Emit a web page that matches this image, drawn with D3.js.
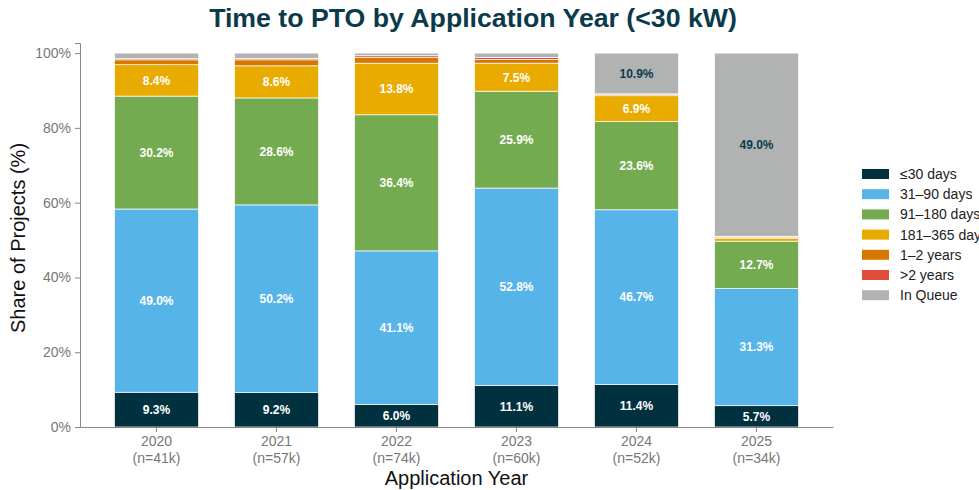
<!DOCTYPE html>
<html lang="en">
<head>
<meta charset="UTF-8">
<title>Time to PTO by Application Year</title>
<script src="https://cdn.jsdelivr.net/npm/d3@7"></script>
<style>
  body { margin: 0; background: #fff; }
  svg { font-family: "Liberation Sans", Arial, sans-serif; display: block; }
</style>
</head>
<body>
<div id="chart"></div>
<script>
// data
const years = ["2020", "2021", "2022", "2023", "2024", "2025"];
const counts = ["(n=41k)", "(n=57k)", "(n=74k)", "(n=60k)", "(n=52k)", "(n=34k)"];
const categories = ["≤30 days", "31–90 days", "91–180 days", "181–365 days", "1–2 years", ">2 years", "In Queue"];
const colors = ["#01303f", "#56b4e9", "#74aa50", "#eaab00", "#d57800", "#e04e39", "#b1b3b3"];

const le30 = [9.3, 9.2, 6.0, 11.1, 11.4, 5.7];
const d31to90 = [49.0, 50.2, 41.1, 52.8, 46.7, 31.3];
const d91to180 = [30.2, 28.6, 36.4, 25.9, 23.6, 12.7];
const d181to365 = [8.4, 8.6, 13.8, 7.5, 6.9, 0.8];
const y1to2 = [1.3, 1.6, 1.6, 1.0, 0.4, 0.3];
const over2 = [0.3, 0.4, 0.4, 0.5, 0.1, 0.2];
const inQueue = [1.5, 1.4, 0.7, 1.2, 10.9, 49.0];
const yTicks = [0, 20, 40, 60, 80, 100];

const series = [le30, d31to90, d91to180, d181to365, y1to2, over2, inQueue];

const W = 979, H = 490;
const margin = { top: 43, right: 146, bottom: 63, left: 80 };
const width = W - margin.left - margin.right;
const height = H - margin.top - margin.bottom;

const svg = d3.select("#chart").append("svg")
  .attr("width", W)
  .attr("height", H);

const g = svg.append("g")
  .attr("transform", `translate(${margin.left},${margin.top})`);

// x scale (band)
const x = d3.scaleBand()
  .domain(years)
  .range([0, width])
  .paddingInner(0.3)
  .paddingOuter(0.2875);

// y scale
const y = d3.scaleLinear()
  .domain([0, 102.7])
  .range([height, 0]);

// stacked rows
const rows = years.map((yr, i) => {
  const r = { year: yr };
  categories.forEach((c, k) => r[c] = series[k][i]);
  return r;
});
const stacked = d3.stack().keys(categories)(rows);

const layers = g.selectAll("g.layer")
  .data(stacked)
  .enter().append("g")
  .attr("class", "layer")
  .attr("fill", (d, k) => colors[k]);

layers.selectAll("rect")
  .data(d => d)
  .enter().append("rect")
  .attr("x", d => x(d.data.year))
  .attr("width", x.bandwidth())
  .attr("y", d => y(d[1]))
  .attr("height", d => y(d[0]) - y(d[1]))
  .attr("stroke", "#fff")
  .attr("stroke-width", 0.7);

// value labels
stacked.forEach((layer, k) => {
  layer.forEach(d => {
    const v = d[1] - d[0];
    if (v < 5) return;
    g.append("text")
      .attr("x", x(d.data.year) + x.bandwidth() / 2)
      .attr("y", (y(d[0]) + y(d[1])) / 2)
      .attr("dy", "0.36em")
      .attr("text-anchor", "middle")
      .style("font-size", "12px")
      .style("font-weight", "bold")
      .attr("fill", categories[k] === "In Queue" ? "#0b3b4a" : "#fff")
      .text(v.toFixed(1) + "%");
  });
});

// y axis
const yAxis = g.append("g")
  .call(d3.axisLeft(y).tickValues(yTicks).tickFormat(d => d + "%").tickSize(5).tickPadding(4));
yAxis.select(".domain").attr("stroke", "#888");
yAxis.selectAll(".tick line").attr("stroke", "#888");
yAxis.selectAll(".tick text").attr("fill", "#777").style("font-size", "14px");

// x axis
const xAxis = g.append("g")
  .attr("transform", `translate(0,${height})`)
  .call(d3.axisBottom(x).tickSize(5).tickSizeOuter(0).tickFormat(""));
xAxis.select(".domain").attr("stroke", "#888");
xAxis.selectAll(".tick line").attr("stroke", "#888");
xAxis.selectAll(".tick").each(function (d, i) {
  const t = d3.select(this).append("text")
    .attr("fill", "#777")
    .attr("text-anchor", "middle")
    .style("font-size", "14px");
  t.append("tspan").attr("x", 0).attr("y", 19).text(d);
  t.append("tspan").attr("x", 0).attr("y", 36).text(counts[i]);
});

// axis titles
g.append("text")
  .attr("x", width / 2)
  .attr("y", height + 58)
  .attr("text-anchor", "middle")
  .attr("fill", "#111")
  .style("font-size", "20px")
  .text("Application Year");

g.append("text")
  .attr("transform", "rotate(-90)")
  .attr("x", -height / 2 - 3)
  .attr("y", -55)
  .attr("text-anchor", "middle")
  .attr("fill", "#111")
  .style("font-size", "20px")
  .text("Share of Projects (%)");

// title
svg.append("text")
  .attr("x", 473)
  .attr("y", 27)
  .attr("text-anchor", "middle")
  .attr("fill", "#0b3b4a")
  .style("font-size", "26.7px")
  .style("font-weight", "bold")
  .text("Time to PTO by Application Year (<30 kW)");

// legend
const legend = svg.append("g")
  .attr("transform", "translate(862,169)");
categories.forEach((c, k) => {
  const row = legend.append("g").attr("transform", `translate(0,${k * 20.2})`);
  row.append("rect")
    .attr("width", 27)
    .attr("height", 10)
    .attr("fill", colors[k]);
  row.append("text")
    .attr("x", 38)
    .attr("y", 5)
    .attr("dy", "0.35em")
    .attr("fill", "#222")
    .style("font-size", "14px")
    .text(c);
});
</script>
</body>
</html>
